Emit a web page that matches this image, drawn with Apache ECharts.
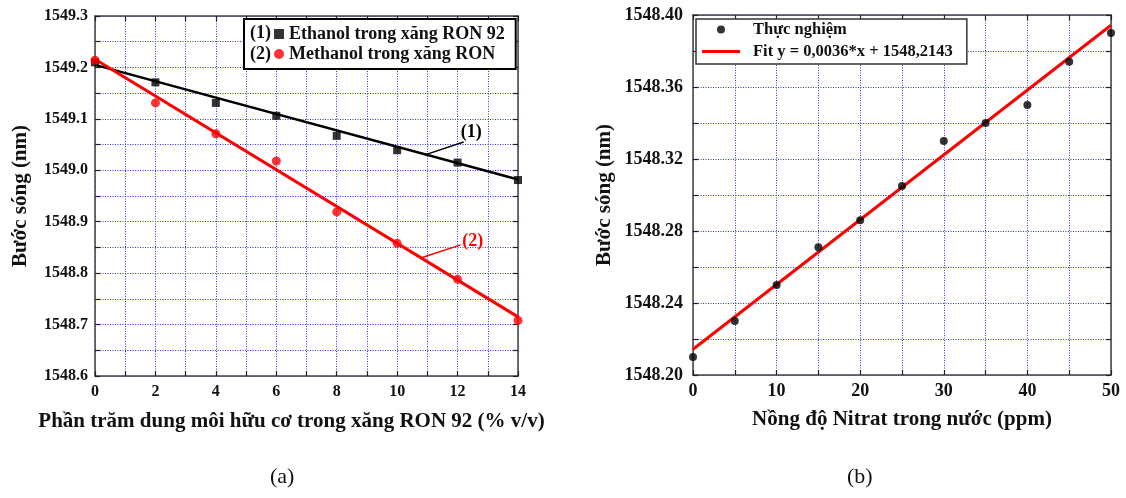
<!DOCTYPE html>
<html><head><meta charset="utf-8">
<script src="https://cdn.jsdelivr.net/npm/echarts@6/dist/echarts.min.js"></script>
<style>html,body{margin:0;padding:0;background:#fff}#c{width:1126px;height:498px}</style>
</head><body><div id="c"></div>
<script>
// ---- data (a) ----
const ethanolX = [0, 2, 4, 6, 8, 10, 12, 14];
const ethanolY = [1549.21, 1549.171, 1549.131, 1549.106, 1549.067, 1549.039, 1549.015, 1548.981];
const methanolY = [1549.214, 1549.131, 1549.071, 1549.018, 1548.919, 1548.858, 1548.788, 1548.708];
const ethanolFit = [[0, 1549.205], [14, 1548.982]];
const methanolFit = [[0, 1549.216], [14, 1548.715]];
// ---- data (b) ----
const nitratX = [0, 5, 10, 15, 20, 25, 30, 35, 40, 45, 50];
const nitratY = [1548.210, 1548.230, 1548.250, 1548.271, 1548.286, 1548.305, 1548.330, 1548.340, 1548.350, 1548.374, 1548.390];
const nitratFit = [[0, 1548.2143], [50, 1548.3943]];
// ---- texts ----
const nameEthanol = 'Ethanol trong xăng RON 92';
const nameMethanol = 'Methanol trong xăng RON';
const nameExp = 'Thực nghiệm';
const nameFit = 'Fit y = 0,0036*x + 1548,2143';

const FONT = 'Liberation Serif';
const gridLine = { color: '#2f2fff', width: 1, type: [1, 1.5] };
const frameLine = { color: '#444', width: 1.5 };
const tickLine = { color: '#222', width: 1.2 };

function axis(opts) {
  const base = {
    type: 'value', gridIndex: opts.grid, min: opts.min, max: opts.max, interval: opts.interval,
    position: opts.position,
    axisLine: { show: true, onZero: false, lineStyle: frameLine },
    axisTick: { show: true, inside: true, length: 5, lineStyle: tickLine },
    minorTick: { show: true, splitNumber: 2, length: 5, lineStyle: tickLine },
    splitLine: { show: opts.main, lineStyle: gridLine },
    minorSplitLine: { show: opts.main, lineStyle: gridLine },
    axisLabel: opts.main ? {
      show: true, fontFamily: FONT, fontWeight: 'bold', fontSize: opts.fs, color: '#111',
      margin: opts.margin, formatter: v => v.toFixed(opts.dec)
    } : { show: false }
  };
  if (opts.name) {
    base.name = opts.name; base.nameLocation = 'middle'; base.nameGap = opts.nameGap;
    base.nameTextStyle = { fontFamily: FONT, fontWeight: 'bold', fontSize: opts.nfs, color: '#111', padding: opts.npad || 0 };
  }
  return base;
}

function annot(coordStart, coordEnd, labelCoord, text, color) {
  return {
    markLine: {
      silent: true, symbol: ['none', 'arrow'], symbolSize: [0, 8],
      lineStyle: { color: color, width: 1.5, type: 'solid' },
      label: { show: false },
      data: [[{ coord: coordStart }, { coord: coordEnd }]]
    },
    markPoint: {
      silent: true, symbol: 'circle', symbolSize: 0,
      label: { show: true, position: 'inside', formatter: text, color: color, fontFamily: FONT, fontWeight: 'bold', fontSize: 18 },
      data: [{ coord: labelCoord }]
    }
  };
}

const chart = echarts.init(document.getElementById('c'));
chart.setOption({
  animation: false,
  backgroundColor: '#fff',
  grid: [
    { left: 95, right: 608, top: 16, bottom: 122 },
    { left: 693, right: 15, top: 15, bottom: 123 }
  ],
  xAxis: [
    axis({ grid: 0, min: 0, max: 14, interval: 2, position: 'bottom', main: true, fs: 16, margin: 8, dec: 0,
      name: 'Phần trăm dung môi hữu cơ trong xăng RON 92 (% v/v)', nameGap: 35, nfs: 21, npad: [0, 30, 0, 0] }),
    axis({ grid: 0, min: 0, max: 14, interval: 2, position: 'top', main: false }),
    axis({ grid: 1, min: 0, max: 50, interval: 10, position: 'bottom', main: true, fs: 18, margin: 7, dec: 0,
      name: 'Nồng độ Nitrat trong nước (ppm)', nameGap: 34, nfs: 21 }),
    axis({ grid: 1, min: 0, max: 50, interval: 10, position: 'top', main: false })
  ],
  yAxis: [
    axis({ grid: 0, min: 1548.6, max: 1549.3, interval: 0.1, position: 'left', main: true, fs: 16, margin: 7, dec: 1,
      name: 'Bước sóng (nm)', nameGap: 64, nfs: 21 }),
    axis({ grid: 0, min: 1548.6, max: 1549.3, interval: 0.1, position: 'right', main: false }),
    axis({ grid: 1, min: 1548.20, max: 1548.40, interval: 0.04, position: 'left', main: true, fs: 18, margin: 10, dec: 2,
      name: 'Bước sóng (nm)', nameGap: 78, nfs: 21 }),
    axis({ grid: 1, min: 1548.20, max: 1548.40, interval: 0.04, position: 'right', main: false })
  ],
  legend: [
    {
      data: [{ name: nameEthanol, icon: 'rect' }, { name: nameMethanol, icon: 'circle' }],
      orient: 'vertical', left: 244, top: 19, padding: [6, 11, 6, 30],
      itemWidth: 10, itemHeight: 10, itemGap: 2,
      textStyle: { fontFamily: FONT, fontWeight: 'bold', fontSize: 18, color: '#111' },
      borderColor: '#000', borderWidth: 2, backgroundColor: '#fff', selectedMode: false
    },
    {
      data: [{ name: nameExp, icon: 'circle' }, { name: nameFit, icon: 'path://M0,0L38,0L38,3L0,3Z' }],
      orient: 'vertical', left: 696, top: 19, padding: [2, 14, 4, 6],
      itemWidth: 38, itemHeight: 8, itemGap: 5, symbolKeepAspect: true,
      textStyle: { fontFamily: FONT, fontWeight: 'bold', fontSize: 16.5, color: '#111', padding: [0, 0, 0, 8] },
      borderColor: '#333', borderWidth: 1.5, backgroundColor: '#fff', selectedMode: false
    }
  ],
  series: [
    Object.assign({
      name: 'fit1', type: 'line', xAxisIndex: 0, yAxisIndex: 0, data: ethanolFit, symbol: 'none', z: 2,
      lineStyle: { color: '#000', width: 2.5 }
    }, annot([12.2, 1549.055], [10.92, 1549.03], [12.45, 1549.074], '(1)', '#000')),
    Object.assign({
      name: 'fit2', type: 'line', xAxisIndex: 0, yAxisIndex: 0, data: methanolFit, symbol: 'none', z: 2,
      lineStyle: { color: '#ff0000', width: 3 }
    }, annot([12.1, 1548.855], [10.85, 1548.831], [12.5, 1548.861], '(2)', '#ff0000')),
    {
      name: nameEthanol, type: 'scatter', xAxisIndex: 0, yAxisIndex: 0, symbol: 'rect', symbolSize: 8, z: 3,
      itemStyle: { color: '#000' },
      data: ethanolX.map((x, i) => [x, ethanolY[i]])
    },
    {
      name: nameMethanol, type: 'scatter', xAxisIndex: 0, yAxisIndex: 0, symbol: 'circle', symbolSize: 9, z: 4,
      itemStyle: { color: '#ff0000' },
      data: ethanolX.map((x, i) => [x, methanolY[i]])
    },
    {
      name: nameFit, type: 'line', xAxisIndex: 2, yAxisIndex: 2, data: nitratFit, symbol: 'none', showSymbol: false, z: 3,
      lineStyle: { color: '#ff0000', width: 3 }, itemStyle: { color: '#ff0000' }
    },
    {
      name: nameExp, type: 'scatter', xAxisIndex: 2, yAxisIndex: 2, symbol: 'circle', symbolSize: 8, z: 4,
      itemStyle: { color: '#000' },
      data: nitratX.map((x, i) => [x, nitratY[i]])
    }
  ],
  graphic: [
    { type: 'text', z: 100, left: 250, top: 24, style: { text: '(1)', font: 'bold 18px "Liberation Serif"', fill: '#111' } },
    { type: 'text', z: 100, left: 250, top: 45, style: { text: '(2)', font: 'bold 18px "Liberation Serif"', fill: '#111' } },
    { type: 'text', z: 100, left: 270, top: 466, style: { text: '(a)', font: '22px "Liberation Serif"', fill: '#111' } },
    { type: 'text', z: 100, left: 847, top: 466, style: { text: '(b)', font: '22px "Liberation Serif"', fill: '#111' } }
  ]
});
</script>
</body></html>
